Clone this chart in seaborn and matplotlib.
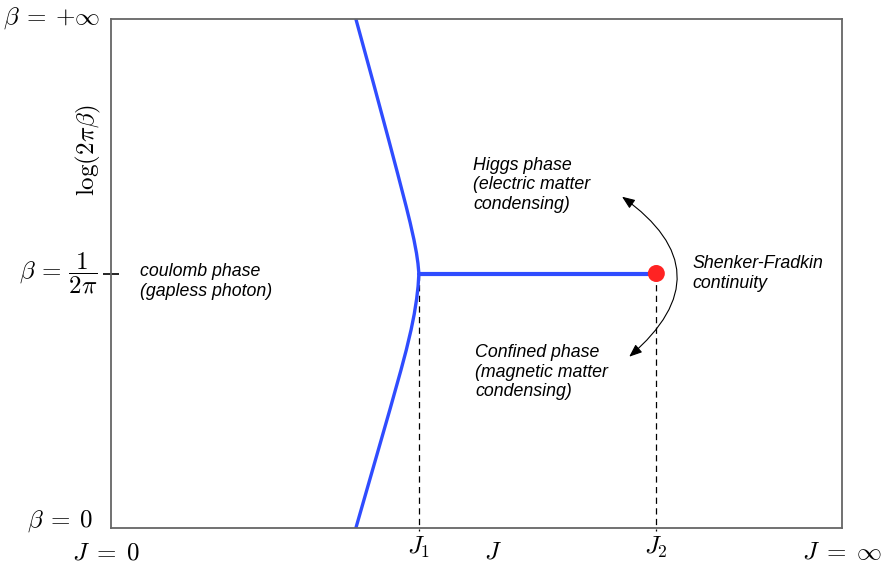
import matplotlib
matplotlib.use("Agg")
import matplotlib.pyplot as plt
import seaborn as sns
import pandas as pd
from matplotlib.patches import FancyArrowPatch

sns.set_theme(style="white")
plt.rcParams["mathtext.fontset"] = "cm"
plt.rcParams["font.family"] = ["Liberation Sans", "DejaVu Sans"]
plt.rcParams["text.color"] = "black"

# phase boundary (J, log(2*pi*beta)) in normalised axis units
boundary_J = [0.335, 0.359, 0.380, 0.392, 0.4039, 0.4092, 0.4145, 0.4179, 0.4199,
              0.4212,
              0.4201, 0.4181, 0.4148, 0.4106, 0.404, 0.3966, 0.382, 0.359, 0.335]
boundary_b = [1.000, 0.874, 0.762, 0.697, 0.631, 0.600, 0.566, 0.540, 0.520,
              0.500,
              0.475, 0.450, 0.420, 0.390, 0.350, 0.310, 0.235, 0.120, 0.000]
# Higgs/confined transition line ending at critical point
J1 = 0.4212
J2 = 0.746
beta_c = 0.500
line_J = [J1, J2]
line_b = [beta_c, beta_c]

blue = "#2f4cff"
red = "#ff2323"

fig = plt.figure(figsize=(8.85, 5.67), dpi=100)
ax = fig.add_axes([111 / 885, 1 - 528 / 567, (842 - 111) / 885, (528 - 19) / 567])

df_b = pd.DataFrame({"J": boundary_J, "b": boundary_b})
sns.lineplot(data=df_b, x="J", y="b", sort=False, estimator=None, color=blue,
             lw=2.4, ax=ax)
ax.lines[-1].set_solid_joinstyle("round")
df_l = pd.DataFrame({"J": line_J, "b": line_b})
sns.lineplot(data=df_l, x="J", y="b", sort=False, estimator=None, color=blue,
             lw=3.0, ax=ax)

# dashed drop lines
for xj in (J1, J2):
    ax.plot([xj, xj], [beta_c, -0.005], ls=(0, (5, 3.5)), color="black", lw=0.9,
            clip_on=False, zorder=1)

sns.scatterplot(x=[J2], y=[beta_c], s=150, color=red, edgecolor="none", ax=ax,
                zorder=5)

ax.set_xlim(0, 1)
ax.set_ylim(0, 1)
ax.set_xlabel("")
ax.set_ylabel("")
ax.set_xticks([])
ax.set_yticks([beta_c])
ax.set_yticklabels([])
ax.tick_params(axis="y", direction="inout", length=11, width=1.2, color="black",
               left=True)
for sp in ax.spines.values():
    sp.set_color("#666666")
    sp.set_linewidth(1.3)

mfs = 18
# y-axis labels
ax.text(-0.015, 1.002, r"$\beta \:=\: {+}\infty$", ha="right", va="center", fontsize=mfs)
ax.text(-0.0315, 0.743, r"$\log(2\pi\beta)$", ha="center", va="center",
        fontsize=mfs, rotation=90)
ax.text(-0.019, 0.5, r"$\beta \,=\, \dfrac{1}{2\pi}$", ha="right", va="center",
        fontsize=mfs)
ax.text(-0.0246, 0.014, r"$\beta \:=\: 0$", ha="right", va="center", fontsize=mfs)
# x-axis labels
ax.text(-0.0068, -0.049, r"$J \;=\; 0$", ha="center", va="center", fontsize=mfs)
ax.text(J1, -0.039, r"$J_1$", ha="center", va="center", fontsize=mfs)
ax.text(0.5226, -0.047, r"$J$", ha="center", va="center", fontsize=mfs)
ax.text(J2, -0.039, r"$J_2$", ha="center", va="center", fontsize=mfs)
ax.text(1.0, -0.047, r"$J \;=\; \infty$", ha="center", va="center", fontsize=mfs)

tfs = 12.8
kw = dict(fontsize=tfs, style="italic", ha="left", va="center", linespacing=1.2,
          color="black")
ax.text(0.0397, 0.484, "coulomb phase\n(gapless photon)", **kw)
ax.text(0.4956, 0.674, "Higgs phase\n(electric matter\ncondensing)", **kw)
ax.text(0.498, 0.306, "Confined phase\n(magnetic matter\ncondensing)", **kw)
ax.text(0.795, 0.500, "Shenker-Fradkin\ncontinuity", **kw)

arrow = FancyArrowPatch((0.696, 0.654), (0.706, 0.333),
                        connectionstyle="arc3,rad=-0.65",
                        arrowstyle="<|-|>,head_length=0.7,head_width=0.28",
                        mutation_scale=11, lw=0.8, color="black")
ax.add_patch(arrow)

fig.savefig("out.png", dpi=100)
